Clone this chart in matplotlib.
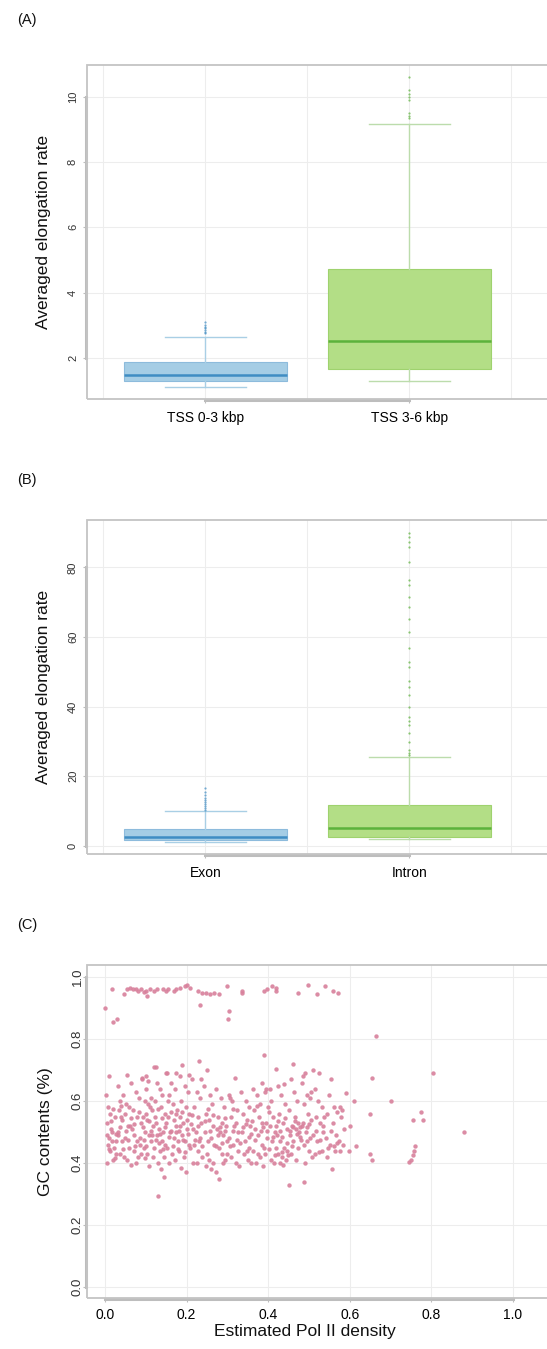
import matplotlib
matplotlib.use("Agg")
import matplotlib.pyplot as plt
from matplotlib.patches import Rectangle

plt.rcParams['font.family'] = ['Liberation Sans', 'DejaVu Sans']

# (A) elongation rate by distance from TSS
tss_labels = ['TSS 0-3 kbp', 'TSS 3-6 kbp']
tss_stats = [
    dict(q1=1.30, med=1.48, q3=1.86, whislo=1.11, whishi=2.63,
         fliers=[2.75, 2.80, 2.85, 2.90, 2.95, 3.00, 3.08]),
    dict(q1=1.64, med=2.51, q3=4.73, whislo=1.29, whishi=9.16,
         fliers=[9.35, 9.40, 9.50, 9.90, 10.0, 10.1, 10.2, 10.62]),
]
tss_yticks = [2, 4, 6, 8, 10]

# (B) elongation rate in exons vs introns
region_labels = ['Exon', 'Intron']
region_stats = [
    dict(q1=1.5, med=2.5, q3=4.9, whislo=1.2, whishi=9.85,
         fliers=[10.3, 10.8, 11.3, 12.0, 12.6, 13.2, 13.8, 14.5, 15.5, 16.6]),
    dict(q1=2.5, med=5.0, q3=11.7, whislo=1.9, whishi=25.4,
         fliers=[26.1, 26.6, 27.6, 29.9, 32.4, 34.7, 35.7, 37.1, 40.0, 43.4,
                 45.7, 47.2, 51.5, 52.9, 56.8, 61.5, 65.1, 68.5, 71.4, 74.9,
                 76.4, 81.6, 85.9, 87.4, 88.8, 90.0]),
]
region_yticks = [0, 20, 40, 60, 80]

# (C) Pol II density vs GC content
top_band = [
    (0.000, 0.90), (0.018, 0.96), (0.020, 0.855), (0.030, 0.865), (0.047, 0.945),
    (0.055, 0.96), (0.062, 0.965), (0.068, 0.96), (0.075, 0.962), (0.080, 0.955),
    (0.088, 0.96), (0.095, 0.952), (0.100, 0.955), (0.103, 0.94), (0.110, 0.96),
    (0.120, 0.955), (0.127, 0.96), (0.142, 0.96), (0.150, 0.955), (0.155, 0.962),
    (0.168, 0.955), (0.175, 0.96), (0.183, 0.965), (0.196, 0.97), (0.202, 0.975),
    (0.208, 0.965), (0.228, 0.955), (0.232, 0.91), (0.238, 0.95), (0.248, 0.95),
    (0.258, 0.945), (0.268, 0.95), (0.280, 0.945), (0.300, 0.97), (0.303, 0.89),
    (0.302, 0.865), (0.335, 0.955), (0.337, 0.95), (0.390, 0.955), (0.397, 0.96),
    (0.410, 0.97), (0.418, 0.965), (0.420, 0.955), (0.472, 0.95), (0.498, 0.975),
    (0.520, 0.945), (0.540, 0.97), (0.558, 0.955), (0.570, 0.948),
]
main_cloud = [
    (0.003, 0.62), (0.008, 0.58), (0.012, 0.56), (0.005, 0.53), (0.015, 0.51),
    (0.004, 0.49), (0.010, 0.48), (0.018, 0.47), (0.007, 0.46), (0.022, 0.45),
    (0.013, 0.44), (0.026, 0.43), (0.020, 0.41), (0.006, 0.40), (0.024, 0.55),
    (0.017, 0.50), (0.010, 0.68), (0.028, 0.47),
    (0.032, 0.65), (0.045, 0.62), (0.038, 0.60), (0.052, 0.59), (0.035, 0.57),
    (0.048, 0.56), (0.041, 0.54), (0.056, 0.52), (0.033, 0.50), (0.050, 0.48),
    (0.043, 0.47), (0.058, 0.45), (0.036, 0.43), (0.047, 0.42), (0.054, 0.41),
    (0.040, 0.55), (0.058, 0.58), (0.055, 0.685), (0.031, 0.49),
    (0.063, 0.66), (0.075, 0.63), (0.084, 0.61), (0.068, 0.57), (0.079, 0.55),
    (0.088, 0.53), (0.066, 0.51), (0.072, 0.49), (0.085, 0.46), (0.070, 0.44),
    (0.081, 0.42), (0.076, 0.40), (0.062, 0.52), (0.087, 0.48), (0.090, 0.675),
    (0.073, 0.455), (0.065, 0.395),
    (0.092, 0.67), (0.100, 0.64), (0.112, 0.61), (0.097, 0.60), (0.106, 0.59),
    (0.115, 0.57), (0.093, 0.55), (0.103, 0.54), (0.118, 0.52), (0.098, 0.50),
    (0.109, 0.49), (0.114, 0.47), (0.095, 0.45), (0.104, 0.43), (0.117, 0.42),
    (0.107, 0.39), (0.100, 0.56), (0.111, 0.58), (0.100, 0.68), (0.105, 0.665),
    (0.119, 0.71), (0.113, 0.505), (0.096, 0.475),
    (0.125, 0.71), (0.128, 0.66), (0.134, 0.64), (0.141, 0.62), (0.122, 0.60),
    (0.137, 0.58), (0.146, 0.56), (0.124, 0.53), (0.132, 0.51), (0.143, 0.50),
    (0.127, 0.49), (0.139, 0.47), (0.148, 0.46), (0.121, 0.45), (0.135, 0.44),
    (0.144, 0.42), (0.129, 0.40), (0.138, 0.38), (0.145, 0.355), (0.130, 0.295),
    (0.150, 0.69), (0.126, 0.475), (0.133, 0.465), (0.147, 0.515), (0.140, 0.545),
    (0.153, 0.69), (0.162, 0.66), (0.171, 0.64), (0.158, 0.62), (0.166, 0.59),
    (0.177, 0.57), (0.155, 0.55), (0.169, 0.54), (0.174, 0.52), (0.160, 0.50),
    (0.168, 0.48), (0.178, 0.47), (0.152, 0.45), (0.164, 0.43), (0.172, 0.41),
    (0.157, 0.40), (0.175, 0.56), (0.175, 0.69), (0.163, 0.505), (0.179, 0.445),
    (0.190, 0.715), (0.183, 0.68), (0.195, 0.65), (0.203, 0.63), (0.186, 0.60),
    (0.198, 0.58), (0.207, 0.56), (0.184, 0.55), (0.192, 0.53), (0.201, 0.51),
    (0.188, 0.49), (0.196, 0.47), (0.205, 0.46), (0.182, 0.44), (0.193, 0.42),
    (0.187, 0.385), (0.199, 0.37), (0.208, 0.45), (0.205, 0.685), (0.185, 0.52),
    (0.200, 0.54),
    (0.213, 0.67), (0.225, 0.63), (0.232, 0.61), (0.218, 0.58), (0.228, 0.55),
    (0.236, 0.53), (0.215, 0.51), (0.222, 0.50), (0.234, 0.48), (0.219, 0.46),
    (0.229, 0.44), (0.238, 0.42), (0.216, 0.40), (0.226, 0.40), (0.231, 0.47),
    (0.230, 0.73), (0.235, 0.67), (0.212, 0.525),
    (0.250, 0.70), (0.243, 0.65), (0.257, 0.62), (0.262, 0.59), (0.247, 0.56),
    (0.255, 0.54), (0.266, 0.52), (0.245, 0.50), (0.259, 0.48), (0.268, 0.46),
    (0.251, 0.43), (0.256, 0.41), (0.264, 0.40), (0.248, 0.39), (0.260, 0.38),
    (0.253, 0.575),
    (0.273, 0.64), (0.285, 0.61), (0.292, 0.58), (0.278, 0.55), (0.288, 0.53),
    (0.296, 0.52), (0.275, 0.51), (0.283, 0.50), (0.290, 0.49), (0.298, 0.47),
    (0.280, 0.45), (0.287, 0.43), (0.294, 0.41), (0.279, 0.35), (0.272, 0.37),
    (0.290, 0.40), (0.282, 0.515), (0.295, 0.505),
    (0.318, 0.675), (0.305, 0.62), (0.312, 0.60), (0.323, 0.57), (0.308, 0.55),
    (0.317, 0.52), (0.327, 0.50), (0.303, 0.48), (0.315, 0.46), (0.325, 0.44),
    (0.310, 0.42), (0.321, 0.40), (0.328, 0.39), (0.306, 0.61), (0.313, 0.505),
    (0.324, 0.475),
    (0.334, 0.63), (0.345, 0.60), (0.352, 0.58), (0.338, 0.56), (0.348, 0.54),
    (0.356, 0.52), (0.336, 0.50), (0.343, 0.47), (0.354, 0.45), (0.340, 0.43),
    (0.350, 0.41), (0.357, 0.40), (0.346, 0.525), (0.359, 0.495),
    (0.363, 0.64), (0.372, 0.62), (0.381, 0.59), (0.366, 0.57), (0.377, 0.55),
    (0.385, 0.53), (0.368, 0.51), (0.375, 0.49), (0.384, 0.46), (0.362, 0.44),
    (0.379, 0.42), (0.370, 0.40), (0.387, 0.39), (0.385, 0.66), (0.373, 0.585),
    (0.388, 0.515),
    (0.390, 0.75), (0.395, 0.64), (0.405, 0.64), (0.393, 0.63), (0.408, 0.60),
    (0.399, 0.58), (0.412, 0.55), (0.394, 0.53), (0.404, 0.52), (0.416, 0.50),
    (0.397, 0.48), (0.409, 0.47), (0.418, 0.45), (0.392, 0.43), (0.406, 0.41),
    (0.414, 0.40), (0.419, 0.52), (0.420, 0.705), (0.401, 0.565),
    (0.440, 0.655), (0.424, 0.65), (0.432, 0.62), (0.441, 0.59), (0.427, 0.56),
    (0.436, 0.53), (0.445, 0.51), (0.422, 0.49), (0.430, 0.47), (0.438, 0.45),
    (0.447, 0.44), (0.425, 0.43), (0.434, 0.42), (0.443, 0.41), (0.429, 0.40),
    (0.437, 0.395), (0.446, 0.465), (0.433, 0.435),
    (0.460, 0.72), (0.455, 0.67), (0.463, 0.63), (0.471, 0.60), (0.452, 0.57),
    (0.466, 0.55), (0.474, 0.53), (0.458, 0.52), (0.469, 0.51), (0.476, 0.50),
    (0.454, 0.49), (0.462, 0.47), (0.473, 0.45), (0.457, 0.43), (0.468, 0.41),
    (0.450, 0.33), (0.478, 0.485), (0.460, 0.515),
    (0.490, 0.69), (0.485, 0.68), (0.483, 0.66), (0.495, 0.62), (0.502, 0.61),
    (0.488, 0.59), (0.497, 0.56), (0.506, 0.54), (0.482, 0.52), (0.493, 0.50),
    (0.503, 0.48), (0.487, 0.46), (0.499, 0.44), (0.508, 0.42), (0.491, 0.40),
    (0.488, 0.34), (0.505, 0.63), (0.496, 0.515),
    (0.510, 0.70), (0.525, 0.69), (0.514, 0.64), (0.522, 0.60), (0.531, 0.58),
    (0.517, 0.55), (0.528, 0.53), (0.535, 0.50), (0.520, 0.47), (0.532, 0.44),
    (0.514, 0.43), (0.538, 0.55), (0.524, 0.435),
    (0.555, 0.67), (0.548, 0.62), (0.562, 0.58), (0.545, 0.56), (0.558, 0.53),
    (0.566, 0.49), (0.551, 0.46), (0.563, 0.44), (0.544, 0.42), (0.556, 0.38),
    (0.568, 0.565), (0.569, 0.465),
    (0.590, 0.625), (0.575, 0.58), (0.582, 0.57), (0.578, 0.55), (0.586, 0.51),
    (0.573, 0.47), (0.583, 0.46), (0.577, 0.44), (0.600, 0.52), (0.597, 0.44),
]
# the crowded middle of the cloud
cloud_core = [
    (0.014, 0.535), (0.019, 0.575), (0.027, 0.495), (0.009, 0.445), (0.025, 0.415),
    (0.037, 0.515), (0.044, 0.445), (0.051, 0.505), (0.057, 0.475), (0.039, 0.585),
    (0.064, 0.545), (0.071, 0.525), (0.078, 0.470), (0.083, 0.565), (0.089, 0.430),
    (0.094, 0.515), (0.101, 0.455), (0.108, 0.535), (0.116, 0.490), (0.099, 0.415),
    (0.123, 0.550), (0.131, 0.575), (0.136, 0.495), (0.142, 0.445), (0.149, 0.530),
    (0.156, 0.485), (0.161, 0.565), (0.167, 0.455), (0.173, 0.500), (0.154, 0.600),
    (0.181, 0.505), (0.189, 0.565), (0.197, 0.435), (0.204, 0.495), (0.191, 0.475),
    (0.214, 0.555), (0.221, 0.475), (0.227, 0.520), (0.237, 0.455), (0.244, 0.535),
    (0.252, 0.470), (0.258, 0.505), (0.265, 0.555), (0.271, 0.455), (0.277, 0.490),
    (0.286, 0.465), (0.293, 0.545), (0.299, 0.430), (0.307, 0.455), (0.314, 0.575),
    (0.322, 0.530), (0.331, 0.465), (0.339, 0.515), (0.347, 0.440), (0.353, 0.485),
    (0.361, 0.535), (0.367, 0.475), (0.374, 0.430), (0.382, 0.505), (0.389, 0.450),
    (0.396, 0.505), (0.403, 0.445), (0.411, 0.485), (0.417, 0.425), (0.423, 0.535),
    (0.428, 0.505), (0.435, 0.485), (0.442, 0.545), (0.448, 0.425), (0.453, 0.505),
    (0.459, 0.455), (0.465, 0.535), (0.470, 0.495), (0.477, 0.515), (0.481, 0.475),
    (0.486, 0.530), (0.494, 0.470), (0.501, 0.525), (0.509, 0.490), (0.516, 0.505),
    (0.527, 0.475), (0.534, 0.520), (0.541, 0.480), (0.553, 0.505), (0.561, 0.455),
    (0.547, 0.450),
]
sparse_tail = [
    (0.610, 0.60), (0.615, 0.455), (0.650, 0.43), (0.655, 0.41), (0.655, 0.675),
    (0.650, 0.56), (0.665, 0.81), (0.700, 0.60), (0.755, 0.54), (0.775, 0.565),
    (0.780, 0.54), (0.805, 0.69), (0.880, 0.50), (0.760, 0.455), (0.758, 0.44),
    (0.755, 0.425), (0.750, 0.41), (0.745, 0.405),
]
density_ticks = [0.0, 0.2, 0.4, 0.6, 0.8, 1.0]
gc_ticks = [0.0, 0.2, 0.4, 0.6, 0.8, 1.0]

box_fill = ['#a5cde5', '#b3de86']
box_edge = ['#8dbbdc', '#9fd26e']
med_col = ['#3f8dc3', '#5cb23c']
whisk_col = ['#a9cfe5', '#bcdcac']

FRAME = '#c4c4c4'
AXLINE = '#bdbdbd'
GRID = '#ededed'
TICKTXT = '#333333'

W, H = 547, 1349
fig = plt.figure(figsize=(W / 100, H / 100), dpi=100)


def place(top, bottom, left=87, right=564):
    return fig.add_axes([left / W, 1 - bottom / H, (right - left) / W, (bottom - top) / H])


def style_axes(ax, xbounds, ybounds, ysize, ypad):
    for s in ['top', 'right']:
        ax.spines[s].set_visible(False)
    for s in ['left', 'bottom']:
        ax.spines[s].set_color(AXLINE)
        ax.spines[s].set_linewidth(2.2)
        ax.spines[s].set_position(('outward', 1))
    ax.spines['left'].set_bounds(*ybounds)
    ax.spines['bottom'].set_bounds(*xbounds)
    ax.add_patch(Rectangle((0, 0), 1, 1, transform=ax.transAxes, fill=False,
                           edgecolor=FRAME, lw=1.3, clip_on=False, zorder=5))
    ax.tick_params(axis='both', color=AXLINE, length=2.5, width=0.8)
    ax.tick_params(axis='y', labelsize=ysize, labelcolor=TICKTXT, pad=ypad, labelrotation=90)
    for t in ax.get_yticklabels():
        t.set_va('center')
    ax.grid(True, color=GRID, lw=0.8)
    ax.set_axisbelow(True)


def boxpanel(ax, stats, labels, yticks, ylim):
    bp = ax.bxp(stats, positions=[1, 2], widths=0.8, capwidths=0.4,
                patch_artist=True, manage_ticks=False,
                flierprops=dict(marker='o', markersize=1.6, markeredgewidth=0))
    for i in range(2):
        bp['boxes'][i].set_facecolor(box_fill[i])
        bp['boxes'][i].set_edgecolor(box_edge[i])
        bp['boxes'][i].set_linewidth(0.8)
        bp['medians'][i].set_color(med_col[i])
        bp['medians'][i].set_linewidth(1.8)
        bp['fliers'][i].set_markerfacecolor(med_col[i])
        bp['fliers'][i].set_alpha(0.7)
        for ln in bp['whiskers'][2 * i:2 * i + 2] + bp['caps'][2 * i:2 * i + 2]:
            ln.set_color(whisk_col[i])
            ln.set_linewidth(1.0)
    ax.set_xlim(0.42, 2.758)
    ax.set_ylim(*ylim)
    ax.set_xticks([1, 2])
    ax.set_xticklabels(labels, fontsize=12, color='#111111')
    ax.tick_params(axis='x', pad=5)
    ax.set_xticks([0.5, 1.5, 2.5], minor=True)
    ax.tick_params(axis='x', which='minor', length=0)
    ax.grid(True, which='minor', axis='x', color=GRID, lw=0.8)
    ax.set_yticks(yticks)
    ax.set_yticklabels([str(t) for t in yticks])
    style_axes(ax, (1, 2), (yticks[0], yticks[-1]), 8, 3)
    ax.set_ylabel('Averaged elongation rate', fontsize=12.5, color='#111111', va='center')
    ax.yaxis.set_label_coords(-0.092, 0.5)


axA = place(65, 399)
boxpanel(axA, tss_stats, tss_labels, tss_yticks, (0.733, 10.98))

axB = place(520, 854)
boxpanel(axB, region_stats, region_labels, region_yticks, (-2.38, 93.6))

axC = place(965, 1298)
pts = top_band + main_cloud + cloud_core + sparse_tail
axC.scatter([p[0] for p in pts], [p[1] for p in pts], s=10, color='#d8809b',
            alpha=0.9, linewidths=0, zorder=3)
axC.set_xlim(-0.044, 1.125)
axC.set_ylim(-0.035, 1.039)
axC.set_xticks(density_ticks)
axC.set_xticklabels([f'{t:.1f}' for t in density_ticks], fontsize=10, color=TICKTXT)
axC.set_yticks(gc_ticks)
axC.set_yticklabels([f'{t:.1f}' for t in gc_ticks])
style_axes(axC, (0.0, 1.0), (0.0, 1.0), 9.5, -1)
axC.tick_params(axis='x', pad=4)
axC.set_xlabel('Estimated Pol II density', fontsize=12.5, color='#111111')
axC.xaxis.set_label_coords(0.457, -0.077)
axC.set_ylabel('GC contents (%)', fontsize=12.5, color='#111111', va='center')
axC.yaxis.set_label_coords(-0.088, 0.5)

for lab, y in [('(A)', 20), ('(B)', 480), ('(C)', 925)]:
    fig.text(27 / W, 1 - y / H, lab, fontsize=10.5, ha='center', va='center', color='#111111')

fig.savefig('out.png', dpi=100)
